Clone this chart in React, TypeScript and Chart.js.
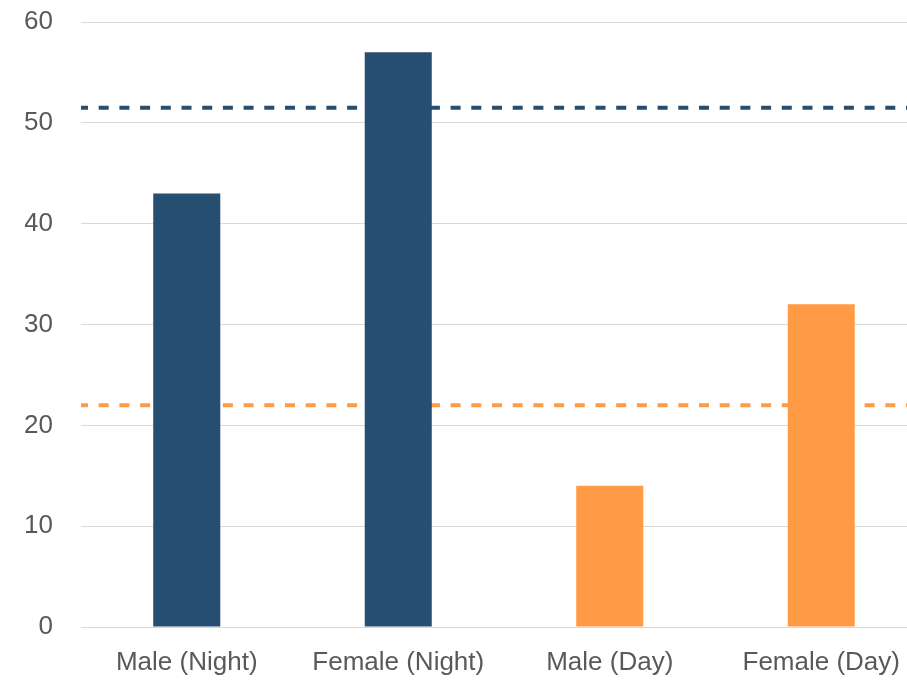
import React, { useEffect, useRef } from "react";
import { Chart, registerables } from "chart.js";

Chart.register(...registerables);

const categories = ["Male (Night)", "Female (Night)", "Male (Day)", "Female (Day)"];
const values = [43, 57, 14, 32];
const barColors = ["#264E70", "#264E70", "#FF9B44", "#FF9B44"];
const averageValues = [51.5, 22];
const averageColors = ["#264E70", "#FF9B44"];
const yTicks = [0, 10, 20, 30, 40, 50, 60];

const averageLinesPlugin = {
  id: "averageLines",
  beforeDatasetsDraw(chart: any) {
    const { ctx, chartArea, scales } = chart;
    ctx.save();
    ctx.beginPath();
    ctx.rect(chartArea.left, chartArea.top - 5, chartArea.right - chartArea.left, chartArea.bottom - chartArea.top + 10);
    ctx.clip();
    averageValues.forEach((v, i) => {
      const y = scales.y.getPixelForValue(v);
      ctx.beginPath();
      ctx.setLineDash([10, 10.7]);
      ctx.lineDashOffset = 3;
      ctx.lineWidth = 4;
      ctx.lineCap = "butt";
      ctx.strokeStyle = averageColors[i];
      ctx.moveTo(chartArea.left, y);
      ctx.lineTo(chartArea.right, y);
      ctx.stroke();
    });
    ctx.restore();
  },
};

export default function App() {
  const ref = useRef<HTMLCanvasElement | null>(null);

  useEffect(() => {
    if (!ref.current) return;
    const font = { family: "'Liberation Sans', Arial, Helvetica, sans-serif", size: 26 };
    const chart = new Chart(ref.current, {
      type: "bar",
      data: {
        labels: categories,
        datasets: [
          {
            data: values,
            backgroundColor: barColors,
            borderWidth: 0,
            categoryPercentage: 1,
            barPercentage: 0.317,
          },
        ],
      },
      plugins: [averageLinesPlugin],
      options: {
        animation: false,
        responsive: false,
        maintainAspectRatio: false,
        layout: { padding: { left: 25, top: 22, right: 13, bottom: 5 } },
        plugins: { legend: { display: false }, tooltip: { enabled: false } },
        scales: {
          x: {
            type: "category",
            grid: { display: false, drawTicks: false },
            border: { display: true, color: "#d9d9d9", width: 1 },
            ticks: { color: "#595959", font, padding: 20, maxRotation: 0, autoSkip: false },
            afterFit: (axis: any) => {
              axis.paddingLeft = 0;
              axis.paddingRight = 0;
              axis.height = 50;
            },
          },
          y: {
            min: 0,
            max: 60,
            afterBuildTicks: (axis: any) => {
              axis.ticks = yTicks.map((v) => ({ value: v }));
            },
            grid: { color: "#d9d9d9", lineWidth: 1, drawTicks: false },
            border: { display: false },
            ticks: { color: "#595959", font, padding: 28 },
            afterFit: (axis: any) => {
              axis.width = 56;
              axis.paddingTop = 0;
              axis.paddingBottom = 0;
            },
          },
        },
      } as any,
    });
    return () => chart.destroy();
  }, []);

  return (
    <div style={{ position: "fixed", left: 0, top: 0, width: 940, height: 682, background: "#fff" }}>
      <canvas ref={ref} width={940} height={682} style={{ width: 940, height: 682, display: "block" }} />
    </div>
  );
}
